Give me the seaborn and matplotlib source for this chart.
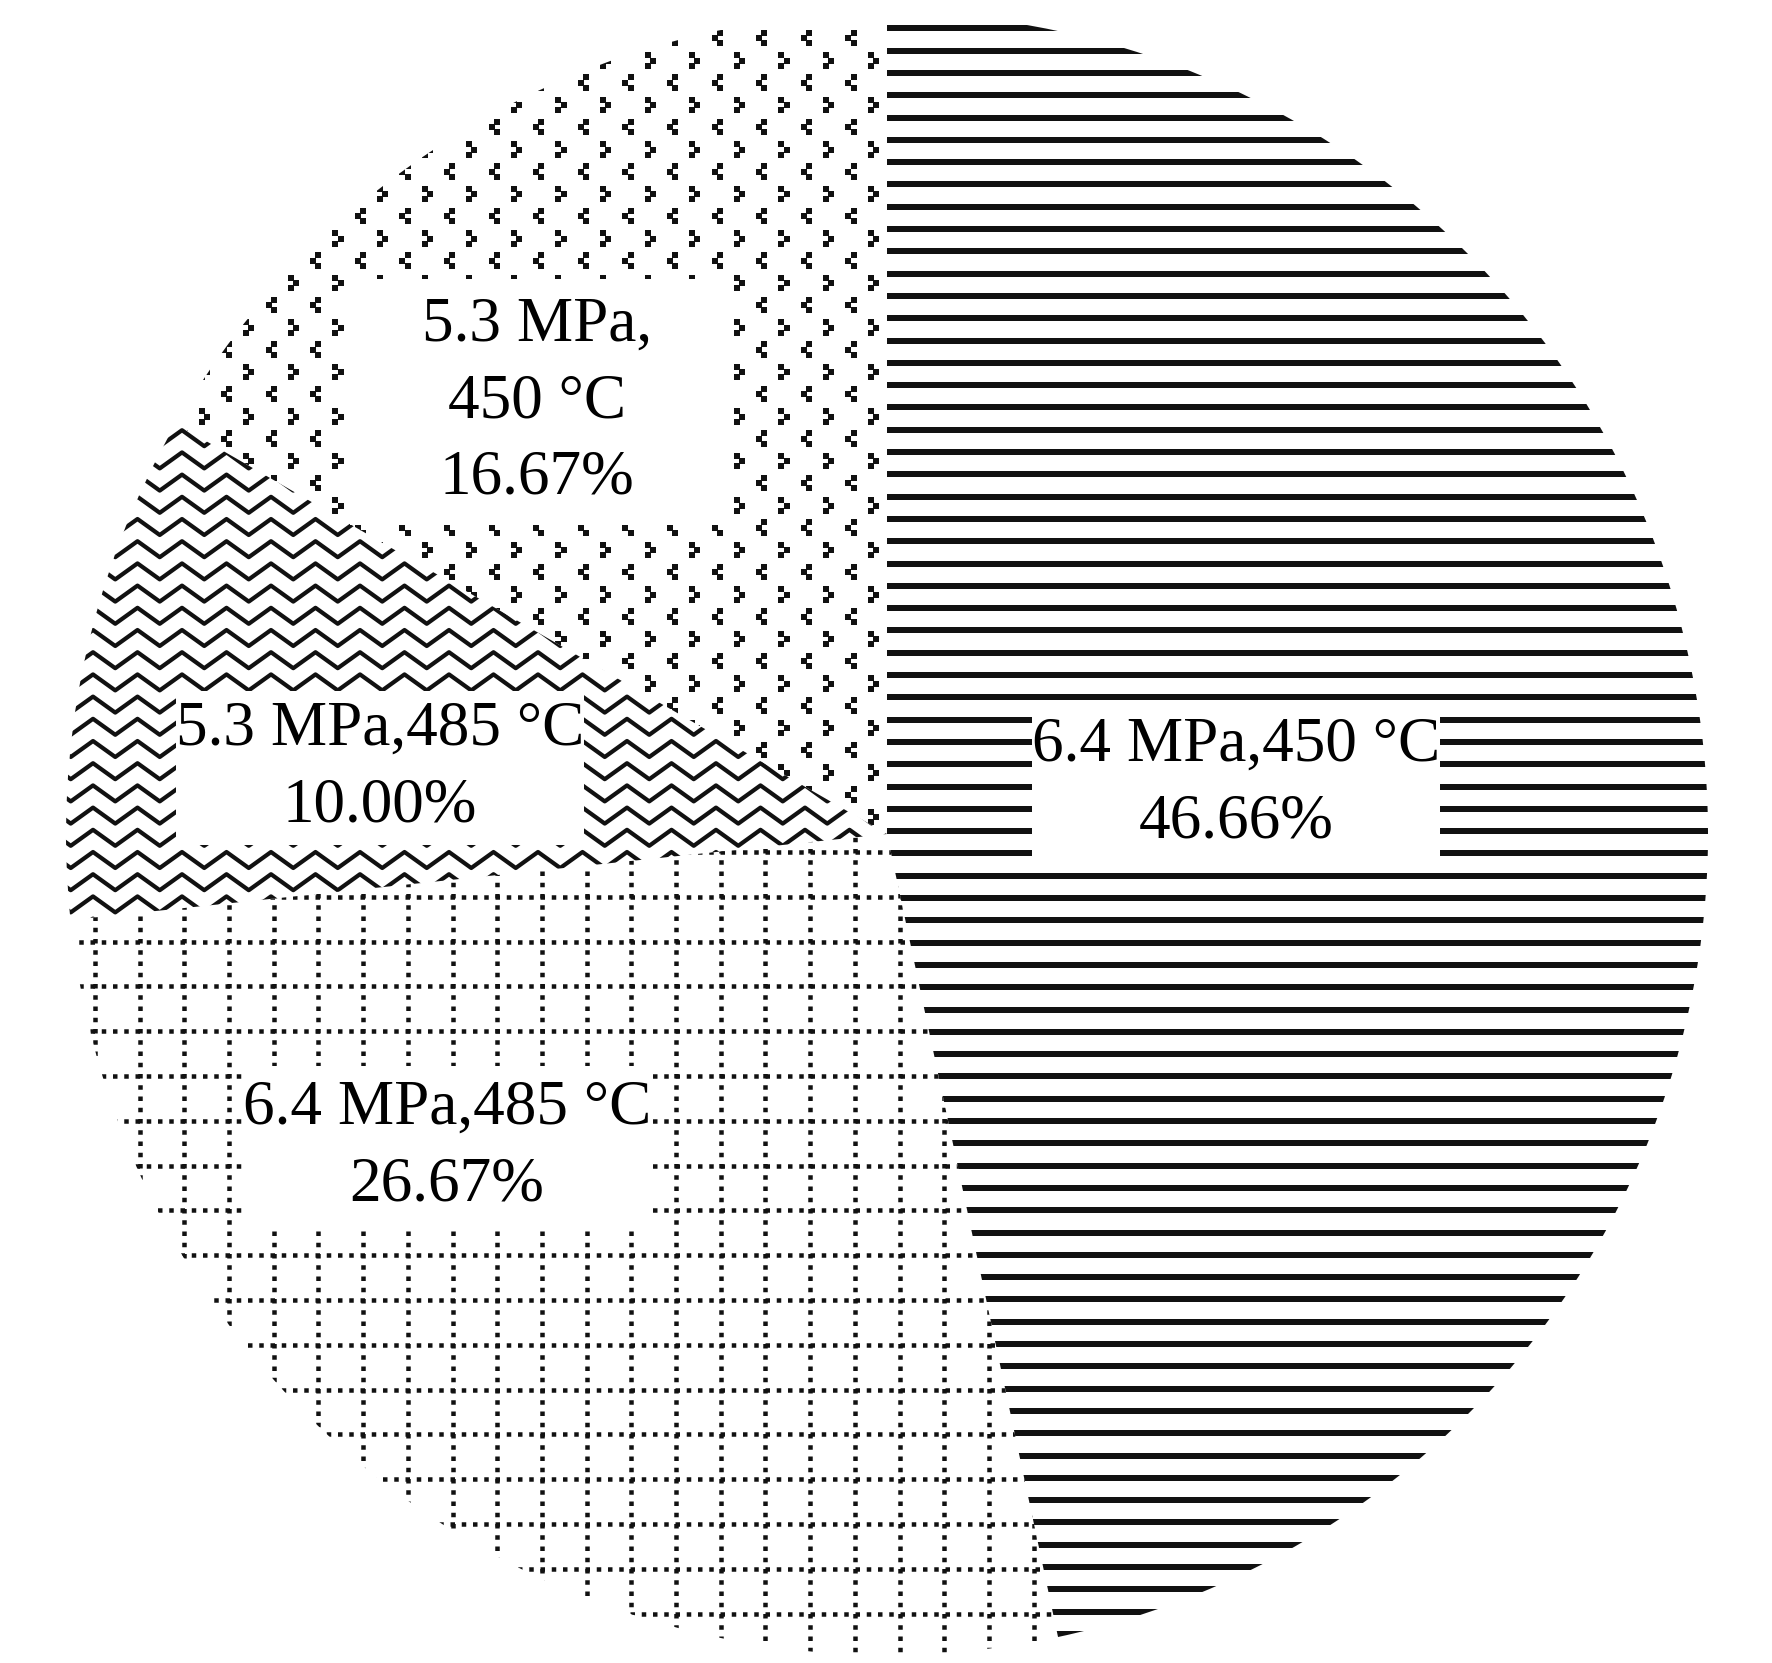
import numpy as np
import matplotlib.pyplot as plt
import seaborn as sns
from matplotlib.path import Path
from matplotlib.collections import LineCollection

# data (clockwise from 12 o'clock)
names = ['6.4 MPa,450 °C', '6.4 MPa,485 °C', '5.3 MPa,485 °C', '5.3 MPa,\n450 °C']
shares = [46.66, 26.67, 10.00, 16.67]

W, H, DPI = 1772, 1663, 100
sns.set_theme(style='white')
plt.rcParams['font.family'] = ['Liberation Serif', 'DejaVu Serif']
ink = '#111111'


def pt(p):
    # pixels -> points
    return p * 72 / DPI


def box_style(padx, pady):
    def box(x0, y0, width, height, mutation_size):
        x0, x1 = x0 - padx, x0 + width + padx
        y0, y1 = y0 - pady, y0 + height + pady
        return Path([(x0, y0), (x1, y0), (x1, y1), (x0, y1), (x0, y0)], closed=True)
    return box


fig = plt.figure(figsize=(W / DPI, H / DPI), dpi=DPI)
ax = fig.add_axes([0, 0, 1, 1])
cx, cy, R = 887, H - 834, 821
wedges, _ = ax.pie(shares, startangle=90, counterclock=False, radius=R,
                   center=(cx, cy), wedgeprops=dict(fill=False, linewidth=0))
ax.set_xlim(0, W)
ax.set_ylim(0, H)
ax.axis('off')

# 6.4 MPa,450 °C : horizontal lines
hl = ax.hlines(H - np.arange(28.3, H, 22.3), 0, W, colors=ink, linewidth=pt(6))
hl.set_clip_path(wedges[0])

# 6.4 MPa,485 °C : dotted grid
dot = (0, (1, 1.5))
gv = ax.vlines(np.arange(95 - 44.7 * 3, W, 44.7), 0, H, colors=ink,
               linewidth=pt(4.5), linestyles=[dot])
gh = ax.hlines(H - np.arange(852 - 44.8 * 20, H, 44.8), 0, W, colors=ink,
               linewidth=pt(4.5), linestyles=[dot])
gv.set_clip_path(wedges[1])
gh.set_clip_path(wedges[1])

# 5.3 MPa,485 °C : zigzag
zx = np.arange(93 - 44.5 * 3, W + 44.5, 22.25)
segs = []
for y0 in np.arange(852 - 22.2 * 40, H, 22.2):
    zy = np.where(np.arange(len(zx)) % 2 == 0, y0, y0 + 16)
    segs.append(np.column_stack([zx, H - zy]))
zz = LineCollection(segs, colors=ink, linewidths=pt(4.2))
ax.add_collection(zz)
zz.set_clip_path(wedges[2])

# 5.3 MPa,450 °C : small chevrons
for x0, y0, s in [(3.6, 38.0, 1), (25.9, 60.5, -1)]:
    X, Y = np.meshgrid(np.arange(x0, W, 44.6), np.arange(y0, H, 44.5))
    px = np.concatenate([X + s * 2.6, X - s * 2.6, X + s * 2.6]).ravel()
    py = np.concatenate([Y - 5.4, Y, Y + 5.4]).ravel()
    sc = ax.scatter(px, H - py, s=pt(5.5) ** 2, marker='s', c=ink, linewidths=0)
    sc.set_clip_path(wedges[3])

# labels
label_pos = [(1236, 777), (447, 1140), (380, 761), (537, 395)]
label_pad = [(0, 10), (0, 14), (0, 10), (72, 18)]
for name, v, (lx, ly), (ppx, ppy) in zip(names, shares, label_pos, label_pad):
    ax.text(lx, H - ly - 7, f'{name}\n{v:.2f}%', ha='center', va='center',
            fontsize=45.5, linespacing=1.42, color='black', zorder=5,
            bbox=dict(boxstyle=box_style(ppx, ppy), fc='white', ec='none'))

fig.savefig('out.png', dpi=DPI, facecolor='white')
